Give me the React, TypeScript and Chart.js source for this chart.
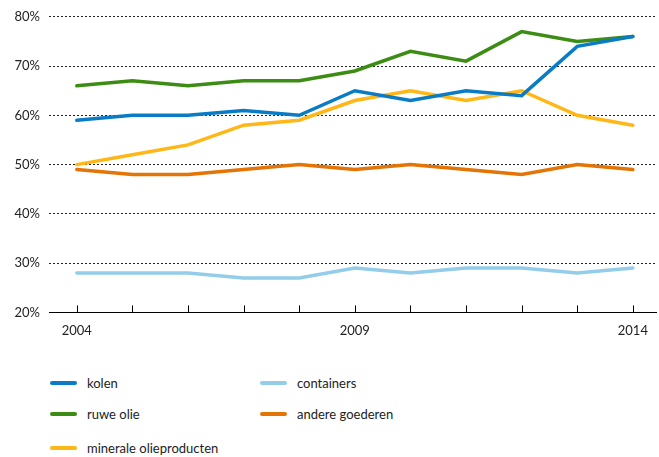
import React, { useEffect, useRef } from "react";
import { Chart, registerables } from "chart.js";

Chart.register(...registerables);

const years = [2004, 2005, 2006, 2007, 2008, 2009, 2010, 2011, 2012, 2013, 2014];
const labeledYears = [2004, 2009, 2014];
const kolen = [59, 60, 60, 61, 60, 65, 63, 65, 64, 74, 76];
const ruweOlie = [66, 67, 66, 67, 67, 69, 73, 71, 77, 75, 76];
const mineraleOlie = [50, 52, 54, 58, 59, 63, 65, 63, 65, 60, 58];
const containers = [28, 28, 28, 27, 27, 29, 28, 29, 29, 28, 29];
const andereGoederen = [49, 48, 48, 49, 50, 49, 50, 49, 48, 50, 49];

const FONT = "Lato";

const series = [
  { label: "kolen", data: kolen, color: "#0a7cc6" },
  { label: "containers", data: containers, color: "#93cde9" },
  { label: "ruwe olie", data: ruweOlie, color: "#3d8c14" },
  { label: "andere goederen", data: andereGoederen, color: "#e37405" },
  { label: "minerale olieproducten", data: mineraleOlie, color: "#ffb717" },
];

const drawOrder = ["kolen", "ruwe olie", "minerale olieproducten", "andere goederen", "containers"];

const upTicks = {
  id: "upTicks",
  afterDraw(chart: any) {
    const { ctx, chartArea, scales } = chart;
    ctx.save();
    ctx.strokeStyle = "#000";
    ctx.lineWidth = 1;
    years.forEach((yr) => {
      const x = Math.round(scales.x.getPixelForValue(yr)) + 0.5;
      ctx.beginPath();
      ctx.moveTo(x, chartArea.bottom);
      ctx.lineTo(x, chartArea.bottom - 7);
      ctx.stroke();
    });
    ctx.restore();
  },
};

export default function App() {
  const ref = useRef<HTMLCanvasElement>(null);

  useEffect(() => {
    if (!ref.current) return;
    const datasets = drawOrder.map((name) => {
      const s = series.find((q) => q.label === name)!;
      return {
        label: s.label,
        data: years.map((yr, i) => ({ x: yr, y: s.data[i] })),
        borderColor: s.color,
        backgroundColor: s.color,
        borderWidth: 3.5,
        pointRadius: 0,
        tension: 0,
        borderCapStyle: "round" as const,
        borderJoinStyle: "miter" as const,
      };
    });
    const chart = new Chart(ref.current, {
      type: "line",
      data: { datasets },
      options: {
        animation: false,
        responsive: false,
        maintainAspectRatio: false,
        layout: { padding: { top: 4, right: 2, bottom: 4, left: 0 } },
        plugins: { legend: { display: false }, tooltip: { enabled: false } },
        scales: {
          x: {
            type: "linear",
            min: 2003.5,
            max: 2014.43,
            grid: { display: false, drawTicks: false },
            border: { display: true, color: "#000", width: 1 },
            afterBuildTicks: (scale: any) => {
              scale.ticks = years.map((yr) => ({ value: yr }));
            },
            ticks: {
              autoSkip: false,
              maxRotation: 0,
              padding: 11,
              color: "#222",
              font: { family: FONT, size: 13 },
              callback: (v: any) => {
                const r = Math.round(Number(v));
                return Math.abs(Number(v) - r) < 1e-6 && labeledYears.includes(r) ? String(r) : "";
              },
            },
          },
          y: {
            min: 20,
            max: 80,
            afterFit: (scale: any) => {
              scale.width = 49;
            },
            grid: {
              color: "#222",
              lineWidth: 1,
              drawTicks: false,
              tickLength: 0,
            },
            border: { display: false, dash: [2, 2] },
            ticks: {
              stepSize: 10,
              padding: 9,
              color: "#222",
              font: { family: FONT, size: 13 },
              callback: (v: any) => v + "%",
            },
          },
        },
      },
      plugins: [upTicks],
    });
    return () => chart.destroy();
  }, []);

  const legendItem = (name: string) => {
    const s = series.find((q) => q.label === name)!;
    return (
      <div style={{ display: "flex", alignItems: "center", height: 20 }}>
        <span
          style={{
            display: "inline-block",
            width: 27,
            height: 3.5,
            borderRadius: 2,
            background: s.color,
            marginRight: 10,
          }}
        />
        <span>{s.label}</span>
      </div>
    );
  };

  return (
    <div
      style={{
        position: "absolute",
        left: 0,
        top: 0,
        width: 659,
        height: 457,
        background: "#fff",
        fontFamily: FONT,
        fontSize: 13,
        color: "#222",
      }}
    >
      <canvas ref={ref} width={659} height={354} style={{ display: "block" }} />
      <div style={{ position: "absolute", left: 50, top: 373, width: 400 }}>
        <div style={{ display: "flex" }}>
          <div style={{ width: 210 }}>{legendItem("kolen")}</div>
          <div>{legendItem("containers")}</div>
        </div>
        <div style={{ display: "flex", marginTop: 11 }}>
          <div style={{ width: 210 }}>{legendItem("ruwe olie")}</div>
          <div>{legendItem("andere goederen")}</div>
        </div>
        <div style={{ display: "flex", marginTop: 14 }}>
          <div style={{ width: 210 }}>{legendItem("minerale olieproducten")}</div>
        </div>
      </div>
    </div>
  );
}
